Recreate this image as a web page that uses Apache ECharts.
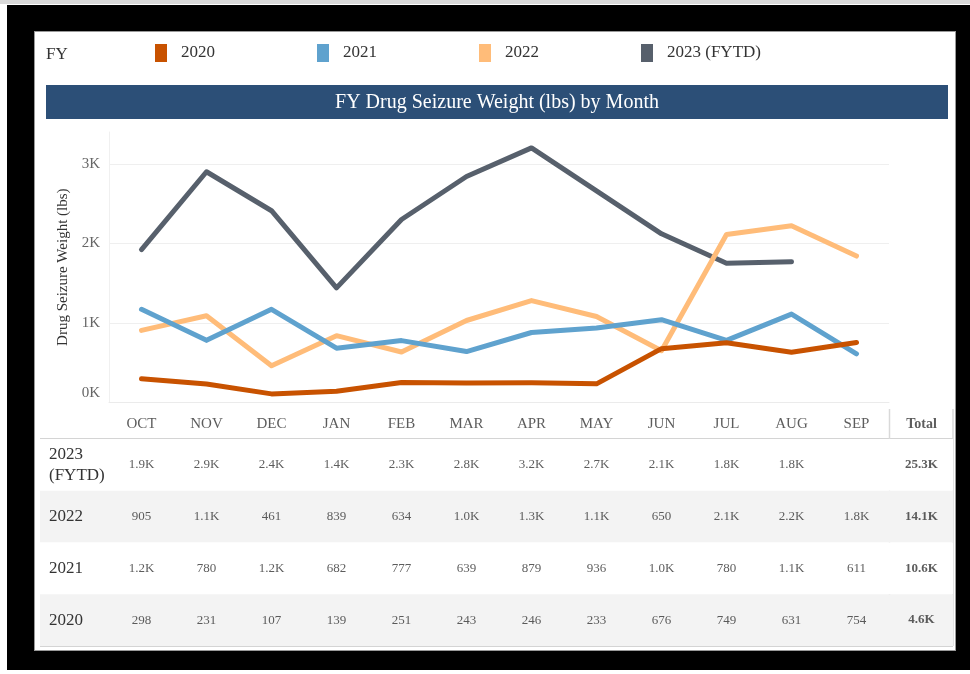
<!DOCTYPE html>
<html><head><meta charset="utf-8">
<script src="https://cdn.jsdelivr.net/npm/echarts@6/dist/echarts.min.js"></script>
<style>
html,body{margin:0;padding:0;background:#fff}
#wrap{position:relative;width:970px;height:674px;background:#fff;overflow:hidden}
#topstrip{position:absolute;left:0;top:0;width:970px;height:4px;background:#d9d9d9}
#black{position:absolute;left:7px;top:5px;width:963px;height:665px;background:#000}
#panel{position:absolute;left:34px;top:31px;width:920px;height:618px;background:#fff;border:1px solid #999}
#c{position:absolute;left:0;top:0;width:970px;height:674px}
</style>
</head><body>
<div id="wrap"><div id="topstrip"></div><div id="black"></div><div id="panel"></div><div id="c"></div></div>
<script>
// ---- data ----
const months = ['OCT','NOV','DEC','JAN','FEB','MAR','APR','MAY','JUN','JUL','AUG','SEP'];
const fy2020 = [298,231,107,139,251,243,246,233,676,749,631,754];
const fy2021 = [1170,780,1170,682,777,639,879,936,1040,780,1110,611];
const fy2022 = [905,1090,461,839,634,1030,1280,1080,650,2110,2220,1840];
const fy2023 = [1920,2900,2410,1440,2300,2840,3200,2660,2120,1750,1770,null];
const seriesNames = ['2020','2021','2022','2023 (FYTD)'];
const tableRowNames = ['2023\n(FYTD)','2022','2021','2020'];
const totalHeader = 'Total';
const yTicks = [0,1000,2000,3000];
const chartTitle = 'FY Drug Seizure Weight (lbs) by Month';
const legendTitle = 'FY';

// ---- build ----
const FONT = '"Liberation Serif","Times New Roman",serif';
const colors = {'2020':'#c85200','2021':'#5fa2ce','2022':'#ffbc79','2023 (FYTD)':'#57606c'};
const seriesData = {'2020':fy2020,'2021':fy2021,'2022':fy2022,'2023 (FYTD)':fy2023};
const tableRowsData = [fy2023, fy2022, fy2021, fy2020];

function fmt(v){ return v >= 1000 ? (v/1000).toFixed(1) + 'K' : String(v); }

const cellData = [];
const totalData = [];
tableRowsData.forEach((arr, r) => {
  arr.forEach((v, i) => { if (v != null) cellData.push([i, r, v]); });
  const sum = arr.reduce((a, b) => a + (b == null ? 0 : b), 0);
  totalData.push([months.length, r, sum]);
});
const headerData = months.map((m, i) => [i, 0, m]);
headerData.push([months.length, 0, totalHeader]);

// table x value axis aligned with month centres of the plot
const gLeft = 109, gRight = 889, colW = (gRight - gLeft) / months.length;
const c0 = gLeft + colW / 2;
const tLeft = 40, tRight = 953;
const tMin = (tLeft - c0) / colW, tMax = (tRight - c0) / colW;

const chart = echarts.init(document.getElementById('c'), null, {renderer:'canvas'});
const lineOrder = ['2023 (FYTD)','2022','2021','2020'];

const option = {
  backgroundColor: 'transparent',
  animation: false,
  textStyle: {fontFamily: FONT},
  title: [
    {text: legendTitle, left: 46, top: 46, padding: 0,
     textStyle: {fontFamily: FONT, fontSize: 17, fontWeight: 'normal', color: '#333'}},
    {text: chartTitle, left: 497, top: 93, padding: 0, textAlign: 'center',
     textStyle: {fontFamily: FONT, fontSize: 20, fontWeight: 'normal', color: '#fff'}}
  ],
  legend: {
    data: seriesNames, left: 155, top: 44, padding: 0,
    icon: 'rect', itemWidth: 12, itemHeight: 18, itemGap: 102,
    textStyle: {fontFamily: FONT, fontSize: 17, color: '#333', padding: [2,0,0,9]},
    selectedMode: false
  },
  graphic: [
    {type: 'rect', shape: {x: 46, y: 85, width: 902, height: 34}, style: {fill: '#2c4f77'}},
    {type: 'line', shape: {x1: 40, y1: 439, x2: 953, y2: 439}, style: {stroke: '#d4d4d4', lineWidth: 2}},
    {type: 'line', shape: {x1: 40, y1: 646, x2: 953, y2: 646}, style: {stroke: '#d4d4d4', lineWidth: 2}},
    {type: 'line', shape: {x1: 889.5, y1: 409, x2: 889.5, y2: 646}, style: {stroke: '#d9d9d9', lineWidth: 1.5}},
    {type: 'line', shape: {x1: 953, y1: 409, x2: 953, y2: 646}, style: {stroke: '#d9d9d9', lineWidth: 1.5}}
  ],
  grid: [
    {left: gLeft, right: 970 - gRight, top: 132, bottom: 674 - 402.4},
    {left: tLeft, right: 970 - tRight, top: 439, bottom: 674 - 646},
    {left: tLeft, right: 970 - tRight, top: 409, bottom: 674 - 439}
  ],
  xAxis: [
    {type: 'category', gridIndex: 0, data: months, boundaryGap: true,
     axisLine: {lineStyle: {color: '#ebebeb'}}, axisTick: {show: false}, axisLabel: {show: false}},
    {type: 'value', gridIndex: 1, min: tMin, max: tMax, show: false},
    {type: 'value', gridIndex: 2, min: tMin, max: tMax, show: false}
  ],
  yAxis: [
    {type: 'value', gridIndex: 0, min: 0, max: 3400, interval: 1000,
     name: 'Drug Seizure Weight (lbs)', nameLocation: 'middle', nameGap: 35,
     nameTextStyle: {fontFamily: FONT, fontSize: 15, color: '#333'},
     axisLine: {show: true, lineStyle: {color: '#f0f0f0'}}, axisTick: {show: false},
     axisLabel: {fontFamily: FONT, fontSize: 15, color: '#666', margin: 9,
       formatter: v => yTicks.includes(v) ? (v === 0 ? '{z|0K}' : (v/1000) + 'K') : '',
       rich: {z: {fontFamily: FONT, fontSize: 15, color: '#666', padding: [0,0,19,0]}}},
     splitLine: {lineStyle: {color: ['#efefef','#efefef','#efefef','#efefef','rgba(0,0,0,0)'], width: 1}}},
    {type: 'category', gridIndex: 1, data: tableRowNames, inverse: true,
     axisLine: {show: false}, axisTick: {show: false},
     axisLabel: {inside: true, margin: 9, fontFamily: FONT, fontSize: 17, color: '#333', lineHeight: 21},
     splitLine: {show: false},
     splitArea: {show: true, areaStyle: {color: ['#ffffff', '#f3f3f3']}}},
    {type: 'category', gridIndex: 2, data: ['h'], show: false}
  ],
  series: [
    ...lineOrder.map(n => ({
      name: n, type: 'line', xAxisIndex: 0, yAxisIndex: 0,
      data: seriesData[n], symbol: 'none', connectNulls: false,
      lineStyle: {width: 5, color: colors[n], cap: 'round', join: 'round'},
      itemStyle: {color: colors[n]}, emphasis: {disabled: true}
    })),
    {type: 'scatter', xAxisIndex: 1, yAxisIndex: 1, data: cellData, symbolSize: 0, silent: true,
     label: {show: true, position: 'inside', formatter: p => fmt(p.value[2]),
       fontFamily: FONT, fontSize: 13, color: '#333'}},
    {type: 'scatter', xAxisIndex: 1, yAxisIndex: 1, data: totalData, symbolSize: 0, silent: true,
     label: {show: true, position: 'inside', formatter: p => fmt(p.value[2]),
       fontFamily: FONT, fontSize: 13, fontWeight: 'bold', color: '#333'}},
    {type: 'scatter', xAxisIndex: 2, yAxisIndex: 2, data: headerData, symbolSize: 0, silent: true,
     label: {show: true, position: 'inside',
       formatter: p => p.value[2] === totalHeader ? '{b|' + p.value[2] + '}' : p.value[2],
       fontFamily: FONT, fontSize: 15, color: '#333',
       rich: {b: {fontFamily: FONT, fontSize: 14, fontWeight: 'bold', color: '#333'}}}}
  ]
};
chart.setOption(option);
</script>
</body></html>
